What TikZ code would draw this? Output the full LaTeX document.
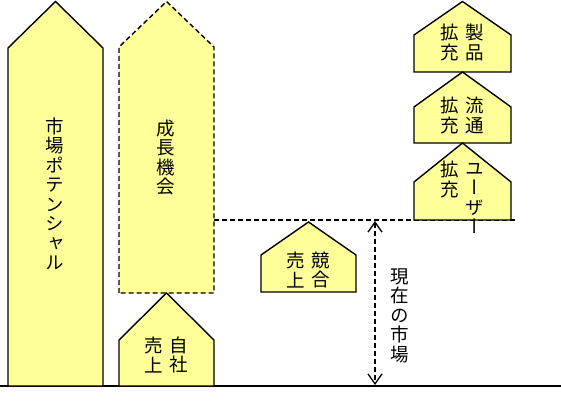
\documentclass[tikz,border=0pt]{standalone}
\usepackage{fontspec}
\usetikzlibrary{arrows.meta}
\newfontfamily\jpfont[RawFeature=+vert]{Noto Sans CJK JP}
\definecolor{boxyellow}{HTML}{FFFF99}
% house outline: left, right, apex y, shoulder y, bottom y
\newcommand{\housepath}[5]{(#1,#5) -- (#1,#4) -- ({(#1+#2)/2},#3) -- (#2,#4) -- (#2,#5) -- cycle}
\begin{document}
\begin{tikzpicture}[
      x=1pt, y=-1pt,
      every node/.style={font=\jpfont\fontsize{18.5}{19.5}\selectfont, inner sep=0pt, align=center},
      housebox/.style={draw, line width=1.4pt, fill=boxyellow, line join=miter},
      dashbox/.style={housebox, dash pattern=on 5pt off 3pt},
      dashline/.style={line width=1.3pt, dash pattern=on 5pt off 3pt},
      >={Straight Barb[length=10pt, width=14pt]},
    ]
    \useasboundingbox (0,0) rectangle (561,401);

    % market level lines
    \draw[dashline] (214,220) -- (517,220);
    \draw[line width=1.5pt] (0,386) -- (561,386);

    % left columns
    \draw[housebox] \housepath{8}{103}{1.5}{48}{386};
    \node (potential) at (55,194) {市\\場\\ポ\\テ\\ン\\シ\\ャ\\ル};

    \draw[dashbox] \housepath{119}{214}{1.5}{47}{293};
    \node (growth) at (166,157.5) {成\\長\\機\\会};

    \draw[housebox] \housepath{119}{214}{293}{340}{386};
    \node (ownL) at (153.5,355) {売\\上};
    \node (ownR) at (178.5,355) {自\\社};

    % competitors
    \draw[housebox] \housepath{261}{356}{222}{255}{292};
    \node (compL) at (295.5,270) {売\\上};
    \node (compR) at (320.5,270) {競\\合};

    % current market arrow
    \coordinate (mkttop) at (375,221);
    \coordinate (mktbot) at (375,385);
    \draw[dashline, <->] (mkttop) -- (mktbot);
    \node (current) at (400,315.5) {現\\在\\の\\市\\場};

    % expansion stack
    \draw[housebox] \housepath{414}{511}{1.5}{35}{72};
    \node (prodL) at (449.5,42.5) {拡\\充};
    \node (prodR) at (474.5,42.5) {製\\品};

    \draw[housebox] \housepath{414}{511}{72}{107}{143};
    \node (distL) at (449.5,115.5) {拡\\充};
    \node (distR) at (474.5,115.5) {流\\通};

    \draw[housebox] \housepath{414}{511}{143}{182}{220};
    \node (userL) at (449.5,179.5) {拡\\充};
    \node (userR) at (474.5,198.5) {ユ\\ー\\ザ\\ー};
  \end{tikzpicture}
\end{document}
